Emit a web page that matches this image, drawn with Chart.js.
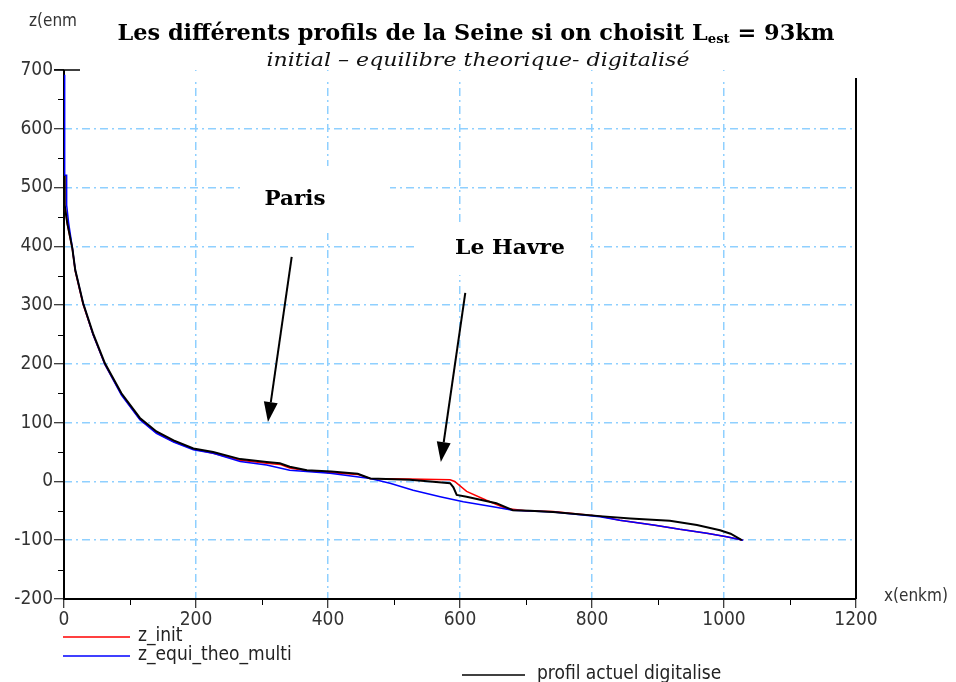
<!DOCTYPE html>
<html>
<head>
<meta charset="utf-8">
<script src="https://cdn.jsdelivr.net/npm/chart.js@4/dist/chart.umd.min.js"></script>
<style>
html,body{margin:0;padding:0;background:#fff;}
canvas{display:block;}
</style>
</head>
<body>
<canvas id="c" width="956" height="682"></canvas>
<script>
// ---- data ----
const xActuel = [0, 1, 5, 12.6, 17, 29, 44, 62, 87, 115, 140, 166, 196, 226, 267, 307, 327, 342, 368, 405, 445, 464, 524, 555, 585, 590, 595, 610, 655, 680, 706, 741, 812, 858, 918, 959, 994, 1010, 1027];
const zActuel = [520, 470, 439, 397, 360, 303, 252, 201, 150, 108, 85, 70, 56, 50, 38, 33, 31, 25, 19, 17, 13, 5, 3, 0, -3, -10, -23, -26, -37, -49, -50, -52, -59, -63, -67, -74, -83, -89, -100];

const xInit = [1, 1, 5, 12.6, 17, 29, 44, 62, 87, 115, 140, 166, 196, 226, 267, 307, 327, 342, 368, 405, 445, 464, 524, 585, 592, 610, 640, 670, 700, 741, 812, 842, 893, 933, 974, 1004, 1029];
const zInit = [521, 470, 438, 396, 358, 301, 250, 199, 148, 106, 83, 68, 55, 48, 36, 31, 29, 23, 18, 15, 12, 5, 4, 3, 0, -17, -32, -46, -50, -51, -59, -66, -74, -81.5, -88, -94, -100];

const xTheo = [1, 1, 4, 4, 7, 13, 17, 29, 44, 62, 87, 115, 140, 166, 196, 226, 267, 307, 342, 403, 464, 494, 529, 570, 605, 650, 680, 741, 812, 842, 893, 933, 974, 1004, 1029];
const zTheo = [692, 521, 521, 470, 440, 395, 360, 303, 250, 199, 147, 105, 82, 67, 54, 48, 34, 28, 19, 14, 5, -3, -15, -26, -34.5, -43, -49, -52, -60, -66, -74, -81.5, -88, -94, -100];

const xTicks = [0, 200, 400, 600, 800, 1000, 1200];
const yTicks = [-200, -100, 0, 100, 200, 300, 400, 500, 600, 700];

const seriesNames = ['z_init', 'z_equi_theo_multi', 'profil actuel digitalise'];

function pts(xs, ys){ return xs.map((x,i)=>({x:x, y:ys[i]})); }

const TICKFONT = "'DejaVu Sans Condensed', 'DejaVu Sans', sans-serif";
const GRID = '#8fd0ff';

function fitText(c, text, cx, cy, targetW){
  const w = c.measureText(text).width;
  const s = targetW / w;
  c.save();
  c.translate(cx, cy);
  c.scale(s, 1);
  c.textAlign = 'center';
  c.fillText(text, 0, 0);
  c.restore();
}

const decor = {
  id: 'decor',
  beforeDraw(chart){
    const c = chart.ctx;
    c.save(); c.fillStyle = '#fff'; c.fillRect(0,0,chart.width,chart.height); c.restore();
  },
  beforeDatasetsDraw(chart){
    const c = chart.ctx;
    const xs = chart.scales.x, ys = chart.scales.y;
    const a = chart.chartArea;
    c.save();
    c.setLineDash([]);
    // white boxes behind the annotation labels (they hide the grid there)
    c.fillStyle = '#fff';
    c.fillRect(a.left + 4, a.top + 1, a.width - 6, 9);
    c.fillRect(240, 166, 150, 67);
    c.fillRect(415, 222, 175, 53);
    // minor ticks
    c.strokeStyle = '#000'; c.lineWidth = 1;
    for (let v = -150; v < 700; v += 100){
      const py = Math.round(ys.getPixelForValue(v)) + 0.5;
      c.beginPath(); c.moveTo(a.left - 6, py); c.lineTo(a.left, py); c.stroke();
    }
    for (let v = 100; v < 1200; v += 200){
      const px = Math.round(xs.getPixelForValue(v)) + 0.5;
      c.beginPath(); c.moveTo(px, a.bottom); c.lineTo(px, a.bottom + 6); c.stroke();
    }
    // axes
    c.lineWidth = 2;
    const ytop = ys.getPixelForValue(700);
    c.beginPath(); c.moveTo(a.left, ytop); c.lineTo(a.left, a.bottom); c.lineTo(a.right, a.bottom); c.stroke();
    // cap at top of y axis
    c.lineWidth = 1.5;
    c.beginPath(); c.moveTo(a.left - 10, ytop); c.lineTo(a.left + 16, ytop); c.stroke();
    // right border
    c.lineWidth = 2;
    c.beginPath(); c.moveTo(a.right, ytop + 8); c.lineTo(a.right, a.bottom); c.stroke();
    c.restore();
  },
  afterDraw(chart){
    const c = chart.ctx;
    const xs = chart.scales.x, ys = chart.scales.y;
    c.save();
    c.setLineDash([]);
    // axis names
    c.fillStyle = '#333';
    c.font = "17px " + TICKFONT;
    c.textBaseline = 'middle'; c.textAlign = 'left';
    c.fillText('z(enm', 29, 22);
    c.fillText('x(enkm)', 884, 597);

    // title
    c.fillStyle = '#000';
    const tf = "bold 22px 'DejaVu Serif', serif";
    const sf = "bold 13px 'DejaVu Serif', serif";
    const p1 = 'Les différents profils de la Seine si on choisit L';
    const p2 = 'est';
    const p3 = ' = 93km';
    c.font = tf; const w1 = c.measureText(p1).width; const w3 = c.measureText(p3).width;
    c.font = sf; const w2 = c.measureText(p2).width;
    const total = w1 + w2 + w3, target = 717, s = target / total;
    c.save();
    c.translate(476 - target / 2, 40);
    c.scale(s, 1);
    c.textAlign = 'left'; c.textBaseline = 'alphabetic';
    let tx = 0;
    c.font = tf; c.fillText(p1, tx, 0); tx += w1;
    c.font = sf; c.fillText(p2, tx, 3); tx += w2;
    c.font = tf; c.fillText(p3, tx, 0);
    c.restore();
    // subtitle
    c.fillStyle = '#111';
    c.font = "italic 19px 'DejaVu Serif', serif";
    c.textBaseline = 'middle';
    fitText(c, 'initial – equilibre theorique- digitalisé', 478, 61, 423);

    // annotations
    c.fillStyle = '#000';
    c.textAlign = 'center';
    c.font = "bold 21px 'DejaVu Serif', serif";
    fitText(c, 'Paris', 295, 200, 61);
    fitText(c, 'Le Havre', 510, 249, 110);
    function arrow(x0, y0, x1, y1){
      const sx = xs.getPixelForValue(x0), sy = ys.getPixelForValue(y0);
      const ex = xs.getPixelForValue(x1), ey = ys.getPixelForValue(y1);
      const ang = Math.atan2(ey - sy, ex - sx);
      const L = 20, W = 7;
      const bx = ex - L * Math.cos(ang), by = ey - L * Math.sin(ang);
      c.strokeStyle = '#000'; c.lineWidth = 2;
      c.beginPath(); c.moveTo(sx, sy); c.lineTo(bx, by); c.stroke();
      c.beginPath();
      c.moveTo(ex, ey);
      c.lineTo(bx + W * Math.sin(ang), by - W * Math.cos(ang));
      c.lineTo(bx - W * Math.sin(ang), by + W * Math.cos(ang));
      c.closePath(); c.fill();
    }
    arrow(345, 382, 309, 101);
    arrow(608, 321, 571, 33);

    // legend
    const ds = chart.data.datasets;
    const leg = [[63, 130, 637, 138], [63, 130, 656, 138], [462, 525, 675, 537]];
    c.font = "19px " + TICKFONT;
    c.textAlign = 'left'; c.textBaseline = 'middle';
    ds.forEach((d, i) => {
      const L = leg[i];
      c.strokeStyle = d.borderColor; c.lineWidth = 1.5;
      c.beginPath(); c.moveTo(L[0], L[2]); c.lineTo(L[1], L[2]); c.stroke();
      c.fillStyle = '#222';
      c.fillText(d.label, L[3], L[2] - 1);
    });
    c.restore();
  }
};

const gridColor = (lo, hi) => ctx => (ctx.tick && (ctx.tick.value === lo || ctx.tick.value === hi)) ? 'rgba(0,0,0,0)' : GRID;

new Chart(document.getElementById('c'), {
  type: 'line',
  data: {
    datasets: [
      { label: seriesNames[0], data: pts(xInit, zInit), borderColor: '#ff0000', borderWidth: 1.5, pointRadius: 0, order: 2, tension: 0 },
      { label: seriesNames[1], data: pts(xTheo, zTheo), borderColor: '#0000ff', borderWidth: 1.5, pointRadius: 0, order: 1, tension: 0 },
      { label: seriesNames[2], data: pts(xActuel, zActuel), borderColor: '#000000', borderWidth: 2, pointRadius: 0, order: 0, tension: 0 }
    ]
  },
  options: {
    responsive: false,
    animation: false,
    events: [],
    layout: { padding: { top: 70, right: 100, left: 0, bottom: 0 } },
    plugins: { legend: { display: false }, tooltip: { enabled: false }, title: { display: false } },
    scales: {
      x: {
        type: 'linear', min: 0, max: 1200,
        afterBuildTicks: s => { s.ticks = xTicks.map(v => ({ value: v })); },
        afterFit: s => { s.height = 83; },
        ticks: { color: '#333', font: { family: TICKFONT, size: 19 }, padding: 1, maxRotation: 0, callback: v => String(v) },
        grid: {
          color: gridColor(0, 1200),
          lineWidth: 1.5,
          tickColor: '#000', tickLength: 9, tickWidth: 1, tickBorderDash: []
        },
        border: { display: false, dash: [8, 4, 2, 4] }
      },
      y: {
        type: 'linear', min: -200, max: 700,
        afterBuildTicks: s => { s.ticks = yTicks.map(v => ({ value: v })); },
        afterFit: s => { s.width = 64; },
        ticks: { color: '#333', font: { family: TICKFONT, size: 19 }, padding: 1, callback: v => String(v) },
        grid: {
          color: gridColor(-200, 700),
          lineWidth: 1.5,
          tickColor: '#000', tickLength: 10, tickWidth: 1, tickBorderDash: []
        },
        border: { display: false, dash: [8, 4, 2, 4] }
      }
    }
  },
  plugins: [decor]
});
</script>
</body>
</html>
